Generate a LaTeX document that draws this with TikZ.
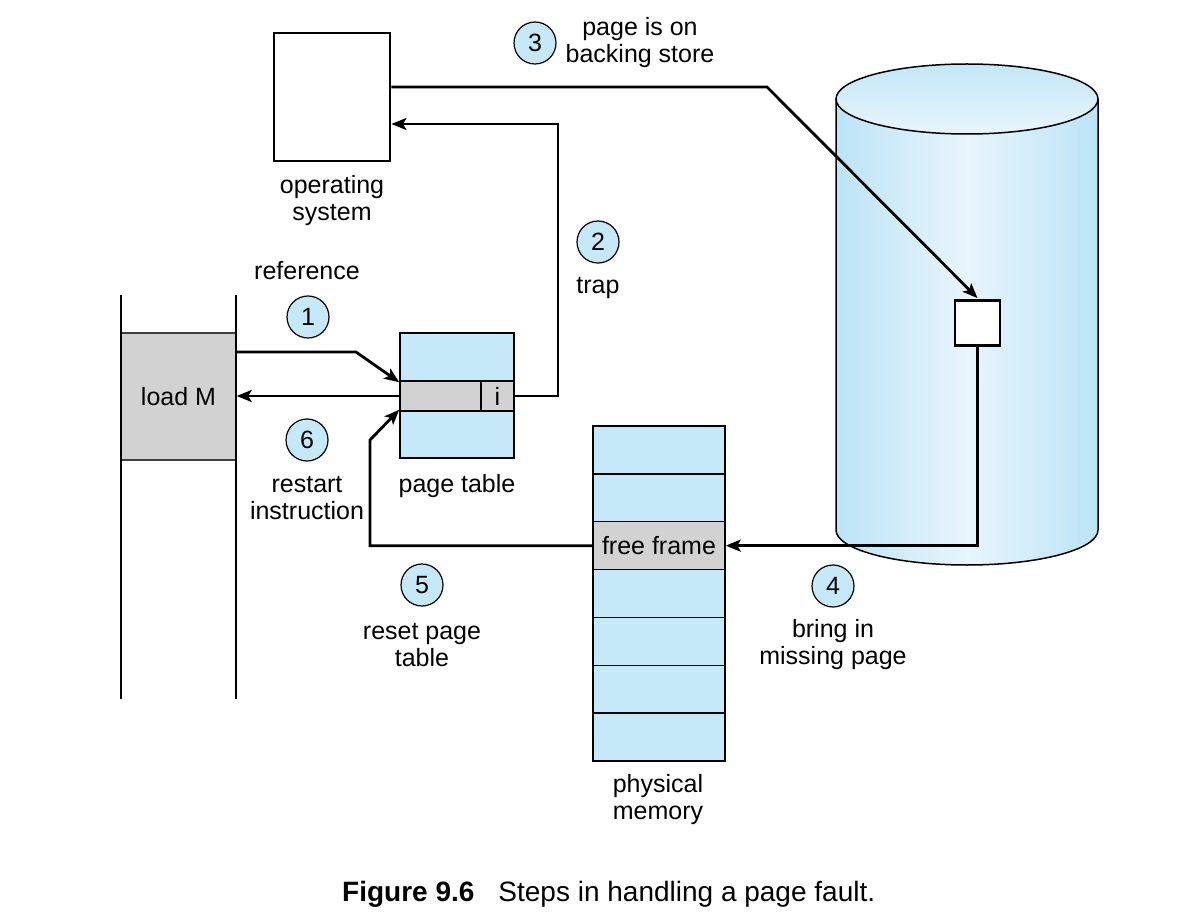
\documentclass[tikz,border=0pt]{standalone}
\usepackage{fontspec}
\setmainfont{Liberation Sans}
\usetikzlibrary{arrows.meta}
\definecolor{paleblue}{HTML}{C6E9F9}
\definecolor{framegray}{HTML}{D2D2D2}
\definecolor{cyledge}{HTML}{BCE4F7}
\definecolor{cylmid}{HTML}{E8F5FC}
\definecolor{cyltop}{HTML}{C4E7F8}

\begin{document}
\begin{tikzpicture}[x=1pt,y=1pt,
  lbl/.style={font=\fontsize{25}{27}\selectfont, align=center, inner sep=0pt},
  stepnum/.style={circle, draw, line width=1.2pt, fill=paleblue, minimum size=42pt,
    inner sep=0pt, font=\fontsize{25}{27}\selectfont},
  flow/.style={line width=2.8pt, -{Stealth[length=15pt,width=12pt,inset=3.5pt]}},
  thickbox/.style={draw, line width=2.8pt, inner sep=0pt},
  cell/.style={draw, line width=1.5pt, fill=paleblue, inner sep=0pt},
  graycell/.style={draw, line width=1.5pt, fill=framegray, inner sep=0pt,
    font=\fontsize{25}{27}\selectfont},
]
\useasboundingbox (0,0) rectangle (1202,-917);

% ---- backing store (disk cylinder) ----
\shade[left color=cyledge, right color=cyledge, middle color=cylmid]
  (836,-99) -- (836,-530) arc[start angle=180,end angle=360,x radius=131,y radius=35]
  -- (1098,-99) -- cycle;
\shade[top color=cyltop, bottom color=cylmid]
  (967,-99) ellipse[x radius=131,y radius=35];
\draw[line width=1.5pt]
  (836,-99) -- (836,-530) arc[start angle=180,end angle=360,x radius=131,y radius=35]
  -- (1098,-99);
\draw[line width=1.5pt] (967,-99) ellipse[x radius=131,y radius=35];
\node[thickbox, fill=white, minimum size=45pt] (blk) at (977.5,-323) {};

% ---- operating system ----
\node[thickbox, minimum width=116pt, minimum height=128pt] (os) at (332,-97) {};
\node[lbl] (oslbl) at (332,-201) {operating\\system};

% ---- process with the faulting instruction ----
\coordinate (colLtop) at (121,-295);
\coordinate (colLbot) at (121,-699);
\coordinate (colRtop) at (236,-295);
\coordinate (colRbot) at (236,-699);
\node[draw=black!75, line width=1.4pt, fill=framegray, minimum width=115pt,
  minimum height=127pt, inner sep=0pt, font=\fontsize{25}{27}\selectfont]
  (loadm) at (178.5,-396.5) {load M};
\draw[line width=1.6pt] (colLtop) -- (colLbot);
\draw[line width=1.6pt] (colRtop) -- (colRbot);

% ---- page table ----
\node[cell, minimum width=114pt, minimum height=125pt] (pt) at (457,-395.5) {};
\node[graycell, minimum width=114pt, minimum height=30pt] (ptrow) at (457,-396) {};
\node[graycell, minimum width=33pt, minimum height=30pt] (ibit) at (497.5,-396) {i};
\node[lbl] (ptlbl) at (457,-486) {page table};

% ---- physical memory ----
\foreach \i in {1,...,7} {
  \node[cell, minimum width=132pt, minimum height=47.86pt]
    (mem\i) at (659,{-426-47.86*(\i-0.5)}) {};
}
\node[graycell, minimum width=132pt, minimum height=47.86pt,
  font=\fontsize{25}{27}\selectfont] (frame) at (mem3) {free frame};
\node[lbl] (memlbl) at (658,-800) {physical\\memory};

% ---- step numbers and labels ----
\node[stepnum] (s1) at (308,-317) {1};
\node[stepnum] (s2) at (598,-242) {2};
\node[stepnum] (s3) at (535,-43) {3};
\node[stepnum] (s4) at (833,-586) {4};
\node[stepnum] (s5) at (422,-585) {5};
\node[stepnum] (s6) at (307,-440) {6};

\node[lbl] (reflbl) at (307,-271) {reference};
\node[lbl] (traplbl) at (598,-288) {trap};
\node[lbl] (bslbl) at (640,-43) {page is on\\backing store};
\node[lbl] (restartlbl) at (307,-498) {restart\\instruction};
\node[lbl] (resetlbl) at (422,-645) {reset page\\table};
\node[lbl] (bringlbl) at (833,-645) {bring in\\missing page};

% ---- connectors ----
\coordinate (refbend) at (356,-352);
\coordinate (trapcorner) at (558,-124);
\coordinate (osout) at (os.east |- 0,-87);
\coordinate (diskbend) at (767,-87);
\coordinate (restartbend) at (370,-440);

\draw[flow] (loadm.east |- refbend) -- (refbend) -- ([yshift=-2pt]ptrow.north west);
\draw[flow] (ptrow.west) -- (ptrow.west -| loadm.east);
\draw[flow] (ptrow.east) -| (trapcorner) -- (trapcorner -| os.east);
\draw[flow] (osout) -- (diskbend) -- ([yshift=1pt]blk.north);
\draw[flow] (blk.south) |- (frame.east);
\draw[flow] (frame.west) -| (restartbend) -- ([yshift=2pt]ptrow.south west);

% ---- caption ----
\node[anchor=base west, inner sep=0pt, font=\fontsize{28}{30}\selectfont] (cap)
  at (342,-901) {\textbf{Figure 9.6}\hspace{24pt}Steps in handling a page fault.};
\end{tikzpicture}
\end{document}
